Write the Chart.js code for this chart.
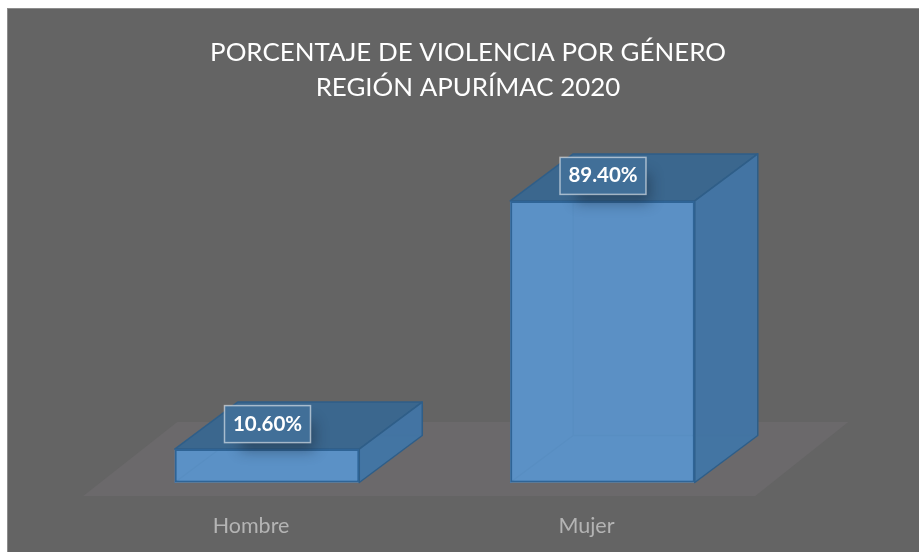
<!DOCTYPE html>
<html>
<head>
<meta charset="utf-8">
<title>Porcentaje de violencia por género</title>
<script src="https://cdn.jsdelivr.net/npm/chart.js@4"></script>
<style>
  html, body { margin: 0; padding: 0; background: #fff; overflow: hidden; }
  canvas { display: block; }
</style>
</head>
<body>
<canvas id="grafico" width="919" height="552"></canvas>
<script>
const categorias = ['Hombre', 'Mujer'];
const porcentajes = [10.6, 89.4];
const tituloLineas = ['PORCENTAJE DE VIOLENCIA POR GÉNERO', 'REGIÓN APURÍMAC 2020'];

const PROF_X = 63;
const PROF_Y = 47;
const FUENTE = 'Lato, "Open Sans", sans-serif';

function poligono(ctx, puntos, relleno, borde) {
  ctx.beginPath();
  puntos.forEach((p, i) => i ? ctx.lineTo(p[0], p[1]) : ctx.moveTo(p[0], p[1]));
  ctx.closePath();
  ctx.fillStyle = relleno;
  ctx.fill();
  if (borde) {
    ctx.strokeStyle = borde;
    ctx.lineWidth = 1.5;
    ctx.lineJoin = 'round';
    ctx.stroke();
  }
}

// fondo, piso y titulo
const fondoPlugin = {
  id: 'fondo',
  beforeDraw(chart) {
    const { ctx, chartArea: a } = chart;
    ctx.save();
    ctx.fillStyle = '#ffffff';
    ctx.fillRect(0, 0, 919, 552);
    ctx.fillStyle = '#646464';
    ctx.fillRect(7, 8, 912, 544);
    ctx.strokeStyle = '#8c8c8c';
    ctx.lineWidth = 1;
    ctx.strokeRect(7.5, 8.5, 912, 544);

    poligono(ctx, [
      [a.left - 16, a.bottom + 13.5],
      [a.left + 78, a.bottom - 60.5],
      [a.right + 78, a.bottom - 60.5],
      [a.right - 15, a.bottom + 13.5]
    ], '#6b696b');

    ctx.fillStyle = '#ffffff';
    ctx.font = '25.9px ' + FUENTE;
    ctx.textAlign = 'center';
    ctx.textBaseline = 'middle';
    tituloLineas.forEach((linea, i) => ctx.fillText(linea, 468, 53 + i * 35));
    ctx.restore();
  },
  // caras traseras y laterales, el frente lo dibuja la barra
  beforeDatasetsDraw(chart) {
    const { ctx } = chart;
    ctx.save();
    chart.getDatasetMeta(0).data.forEach(b => {
      const izq = b.x - b.width / 2, der = b.x + b.width / 2;
      const sup = b.y, inf = b.base;
      poligono(ctx, [[izq + PROF_X, sup - PROF_Y], [der + PROF_X, sup - PROF_Y], [der + PROF_X, inf - PROF_Y], [izq + PROF_X, inf - PROF_Y]], '#5b8ec2');
      poligono(ctx, [[izq, inf], [der, inf], [der + PROF_X, inf - PROF_Y], [izq + PROF_X, inf - PROF_Y]], '#5a93c8');
      poligono(ctx, [[izq, sup], [izq + PROF_X, sup - PROF_Y], [izq + PROF_X, inf - PROF_Y], [izq, inf]], '#5b90c5');
      ctx.strokeStyle = '#4b80b6';
      ctx.lineWidth = 1.5;
      ctx.beginPath();
      ctx.moveTo(izq, inf);
      ctx.lineTo(izq + PROF_X, inf - PROF_Y);
      ctx.lineTo(der + PROF_X, inf - PROF_Y);
      ctx.moveTo(izq + PROF_X, inf - PROF_Y);
      ctx.lineTo(izq + PROF_X, sup - PROF_Y);
      ctx.stroke();
      poligono(ctx, [[izq, sup], [der, sup], [der + PROF_X, sup - PROF_Y], [izq + PROF_X, sup - PROF_Y]], '#3b678e', '#2f5e88');
      poligono(ctx, [[der, sup], [der + PROF_X, sup - PROF_Y], [der + PROF_X, inf - PROF_Y], [der, inf]], 'rgba(66,115,160,0.94)', '#2f5e88');
    });
    ctx.restore();
  },
  // etiquetas de porcentaje
  afterDatasetsDraw(chart) {
    const { ctx } = chart;
    ctx.save();
    chart.getDatasetMeta(0).data.forEach((b, i) => {
      const ancho = 86, alto = 37;
      const x = b.x + 0.5 - ancho / 2, y = b.y - 25 - alto / 2;
      ctx.save();
      ctx.shadowColor = 'rgba(20,30,45,0.42)';
      ctx.shadowBlur = 14;
      ctx.shadowOffsetX = 10;
      ctx.shadowOffsetY = 12;
      ctx.fillStyle = '#416f98';
      ctx.fillRect(x + 6, y + 4, ancho - 12, alto - 8);
      ctx.restore();
      ctx.fillStyle = '#416f98';
      ctx.fillRect(x, y, ancho, alto);
      ctx.strokeStyle = 'rgba(255,255,255,0.55)';
      ctx.lineWidth = 1.5;
      ctx.strokeRect(x, y, ancho, alto);
      ctx.fillStyle = '#ffffff';
      ctx.font = 'bold 20.5px ' + FUENTE;
      ctx.textAlign = 'center';
      ctx.textBaseline = 'middle';
      ctx.fillText(porcentajes[i].toFixed(2) + '%', x + ancho / 2, y + alto / 2);
    });
    ctx.restore();
  }
};

new Chart(document.getElementById('grafico'), {
  type: 'bar',
  data: {
    labels: categorias,
    datasets: [{
      data: porcentajes,
      backgroundColor: 'rgba(91,145,197,0.8)',
      borderColor: '#2f6496',
      borderWidth: 2,
      borderSkipped: false,
      barPercentage: 0.55,
      categoryPercentage: 1
    }]
  },
  options: {
    responsive: false,
    animation: false,
    layout: { padding: { top: 167.5, left: 99.25, right: 148.75, bottom: 0 } },
    plugins: {
      legend: { display: false },
      title: { display: false },
      tooltip: { enabled: false }
    },
    scales: {
      y: { display: false, min: 0, max: 100 },
      x: {
        afterFit: s => { s.height = 69.5; },
        border: { display: false },
        grid: { display: false, drawTicks: false },
        ticks: {
          color: '#b4b4b4',
          font: { family: FUENTE, size: 21.5 },
          padding: 30.5,
          labelOffset: -16,
          maxRotation: 0
        }
      }
    }
  },
  plugins: [fondoPlugin]
});
</script>
</body>
</html>
